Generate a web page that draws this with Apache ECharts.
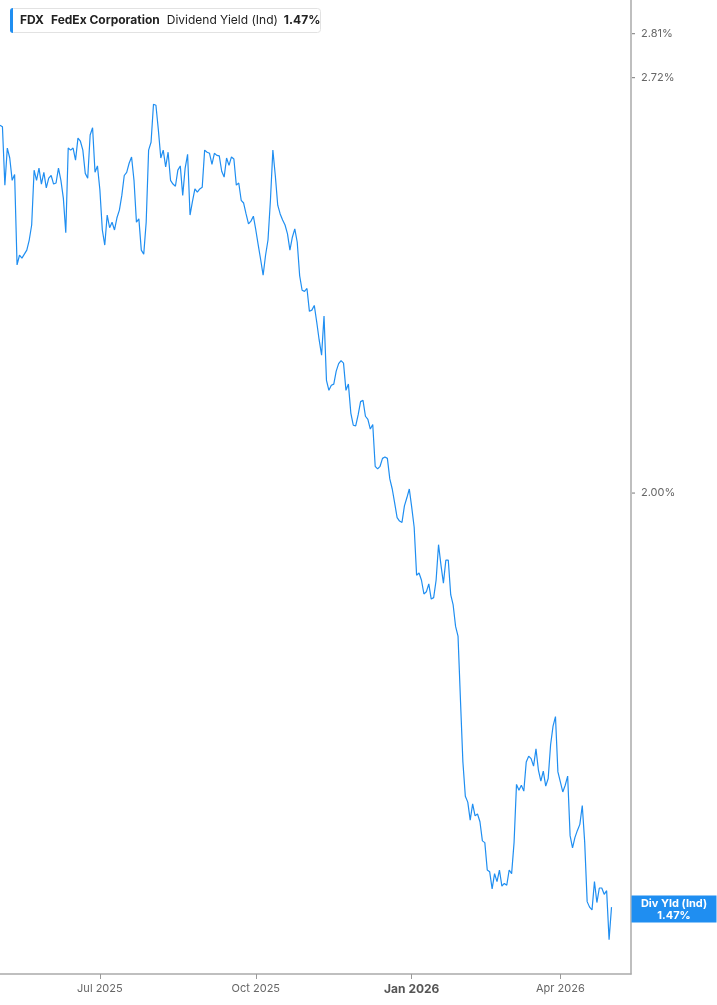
<!DOCTYPE html>
<html><head><meta charset="utf-8">
<script src="https://cdn.jsdelivr.net/npm/echarts@6/dist/echarts.min.js"></script>
<style>html,body{margin:0;padding:0;background:#fff}#c{width:717px;height:1005px}</style>
</head><body><div id="c"></div>
<script>
// ---- data ----
const ticker = 'FDX';
const company = 'FedEx Corporation';
const metricName = 'Dividend Yield (Ind)';
const badgeTitle = 'Div Yld (Ind)';
const startDate = '2025-05-01';
const holidays = ['2025-05-26','2025-06-19','2025-07-04','2025-09-01','2025-11-27','2025-12-25',
  '2026-01-01','2026-01-19','2026-02-16','2026-04-03','2026-05-25'];
const totalSlots = 260;
const monthNames = ['Jan','Feb','Mar','Apr','May','Jun','Jul','Aug','Sep','Oct','Nov','Dec'];
const yTickValues = [2.81, 2.72, 2.00];
const yieldValues = [
  2.626,2.623,2.512,2.582,2.563,2.521,2.532,2.368,2.385,2.380,
  2.387,2.394,2.412,2.439,2.540,2.521,2.544,2.514,2.536,2.507,
  2.525,2.530,2.514,2.516,2.544,2.521,2.488,2.425,2.582,2.578,
  2.582,2.559,2.601,2.595,2.578,2.534,2.525,2.607,2.621,2.536,
  2.548,2.503,2.430,2.403,2.457,2.434,2.444,2.430,2.452,2.466,
  2.493,2.530,2.536,2.553,2.565,2.521,2.444,2.450,2.394,2.387,
  2.444,2.578,2.593,2.667,2.665,2.617,2.563,2.578,2.546,2.574,
  2.521,2.514,2.510,2.540,2.548,2.493,2.544,2.570,2.457,2.482,
  2.505,2.499,2.505,2.508,2.578,2.574,2.572,2.551,2.572,2.568,
  2.567,2.538,2.527,2.563,2.549,2.565,2.561,2.512,2.516,2.484,
  2.479,2.459,2.441,2.446,2.455,2.430,2.403,2.377,2.350,2.385,
  2.412,2.484,2.578,2.530,2.475,2.459,2.448,2.439,2.423,2.394,
  2.417,2.432,2.408,2.349,2.324,2.322,2.327,2.288,2.290,2.298,
  2.270,2.240,2.215,2.280,2.174,2.158,2.166,2.168,2.189,2.201,
  2.206,2.202,2.158,2.168,2.122,2.103,2.102,2.119,2.140,2.142,
  2.117,2.112,2.097,2.104,2.040,2.036,2.040,2.052,2.054,2.052,
  2.021,2.006,1.985,1.964,1.959,1.957,1.981,1.993,2.006,1.979,
  1.950,1.882,1.885,1.875,1.856,1.859,1.870,1.849,1.851,1.875,
  1.925,1.896,1.871,1.903,1.903,1.855,1.841,1.812,1.799,1.716,
  1.639,1.598,1.591,1.570,1.589,1.575,1.577,1.568,1.546,1.544,
  1.513,1.511,1.492,1.509,1.500,1.513,1.495,1.498,1.496,1.513,
  1.509,1.544,1.612,1.605,1.611,1.604,1.639,1.646,1.643,1.634,
  1.655,1.629,1.616,1.628,1.610,1.619,1.660,1.683,1.695,1.627,
  1.615,1.603,1.611,1.622,1.552,1.538,1.550,1.558,1.565,1.587,
  1.544,1.478,1.472,1.469,1.500,1.477,1.493,1.493,1.486,1.490,
  1.437,1.472
];

// ---- build categories (trading days) ----
function tradingDays(start, n) {
  const out = [];
  const d = new Date(start + 'T00:00:00Z');
  while (out.length < n) {
    const wd = d.getUTCDay();
    const s = d.toISOString().slice(0, 10);
    if (wd !== 0 && wd !== 6 && holidays.indexOf(s) < 0) out.push(s);
    d.setUTCDate(d.getUTCDate() + 1);
  }
  return out;
}
const dates = tradingDays(startDate, totalSlots);
function isQuarterStart(i) {
  if (i <= 0) return false;
  const m = +dates[i].slice(5, 7), pm = +dates[i - 1].slice(5, 7);
  return m !== pm && (m - 1) % 3 === 0;
}
const lastValue = yieldValues[yieldValues.length - 1];
const blue = '#1f8ef1';
const font = 'Inter, "Noto Sans", sans-serif';

const chart = echarts.init(document.getElementById('c'), null, {renderer: 'canvas'});
chart.setOption({
  animation: false,
  textStyle: {fontFamily: font},
  title: {
    left: 10, top: 8, padding: 0,
    backgroundColor: '#fff', borderColor: '#e2e2e2', borderWidth: 1, borderRadius: 3,
    text: '{bar|}{tk|' + ticker + '}{co|' + company + '}{me|' + metricName + '}{va|' + lastValue.toFixed(2) + '%}',
    textStyle: {
      rich: {
        bar: {width: 3, height: 25, backgroundColor: blue, borderRadius: [3, 0, 0, 3]},
        tk: {fontFamily: font, fontWeight: 'bold', fontSize: 12, color: '#222', padding: [0, 0, 0, 7]},
        co: {fontFamily: font, fontWeight: 'bold', fontSize: 12, color: '#222', padding: [0, 0, 0, 7]},
        me: {fontFamily: font, fontWeight: 'normal', fontSize: 12, color: '#222', padding: [0, 0, 0, 7]},
        va: {fontFamily: font, fontWeight: 'bold', fontSize: 12, color: '#222', padding: [0, 7, 0, 6]}
      }
    }
  },
  grid: {left: 0, right: 86, top: 0, bottom: 31, containLabel: false, outerBoundsMode: 'none'},
  xAxis: {
    type: 'category', data: dates, boundaryGap: false,
    axisLine: {onZero: false, lineStyle: {color: '#aaa', width: 1.5}},
    axisTick: {interval: (i) => isQuarterStart(i), length: 5, lineStyle: {color: '#999'}},
    axisLabel: {
      interval: (i) => isQuarterStart(i),
      color: '#666', fontSize: 11, margin: 9, fontFamily: font,
      formatter: (v) => {
        const m = +v.slice(5, 7), y = v.slice(0, 4);
        const s = monthNames[m - 1] + ' ' + y;
        return m === 1 ? '{b|' + s + '}' : s;
      },
      rich: {b: {fontWeight: 'bold', fontSize: 12, color: '#555', fontFamily: font}}
    },
    splitLine: {show: false}
  },
  yAxis: {
    type: 'log', logBase: 10, position: 'right',
    min: 1.4009, max: 2.881,
    axisLine: {show: true, lineStyle: {color: '#aaa', width: 1.5}},
    axisTick: {show: false}, axisLabel: {show: false},
    splitLine: {show: false}, minorTick: {show: false}, minorSplitLine: {show: false}
  },
  series: [{
    type: 'line', data: yieldValues, showSymbol: false, symbol: 'none',
    lineStyle: {color: blue, width: 1.2}, itemStyle: {color: blue},
    markLine: {
      silent: true, symbol: ['none', 'none'], animation: false,
      lineStyle: {width: 0, color: 'rgba(0,0,0,0)', type: 'solid'},
      label: {
        show: true, position: 'end', distance: 1,
        formatter: (p) => '{t|}{v|' + p.value.toFixed(2) + '%}',
        rich: {
          t: {width: 3, height: 1, backgroundColor: '#777'},
          v: {color: '#666', fontSize: 11, fontFamily: font, padding: [0, 0, 0, 6]}
        }
      },
      data: yTickValues.map(v => ({yAxis: v})).concat([{
        yAxis: lastValue,
        label: {
          show: true, position: 'end', distance: 43, align: 'center', verticalAlign: 'middle',
          formatter: badgeTitle + '\n' + lastValue.toFixed(2) + '%',
          color: '#fff', fontWeight: 'bold', fontSize: 11, lineHeight: 12, fontFamily: font,
          backgroundColor: blue, padding: [2, 8, 1, 8], width: 69
        }
      }])
    }
  }]
});
</script>
</body></html>
